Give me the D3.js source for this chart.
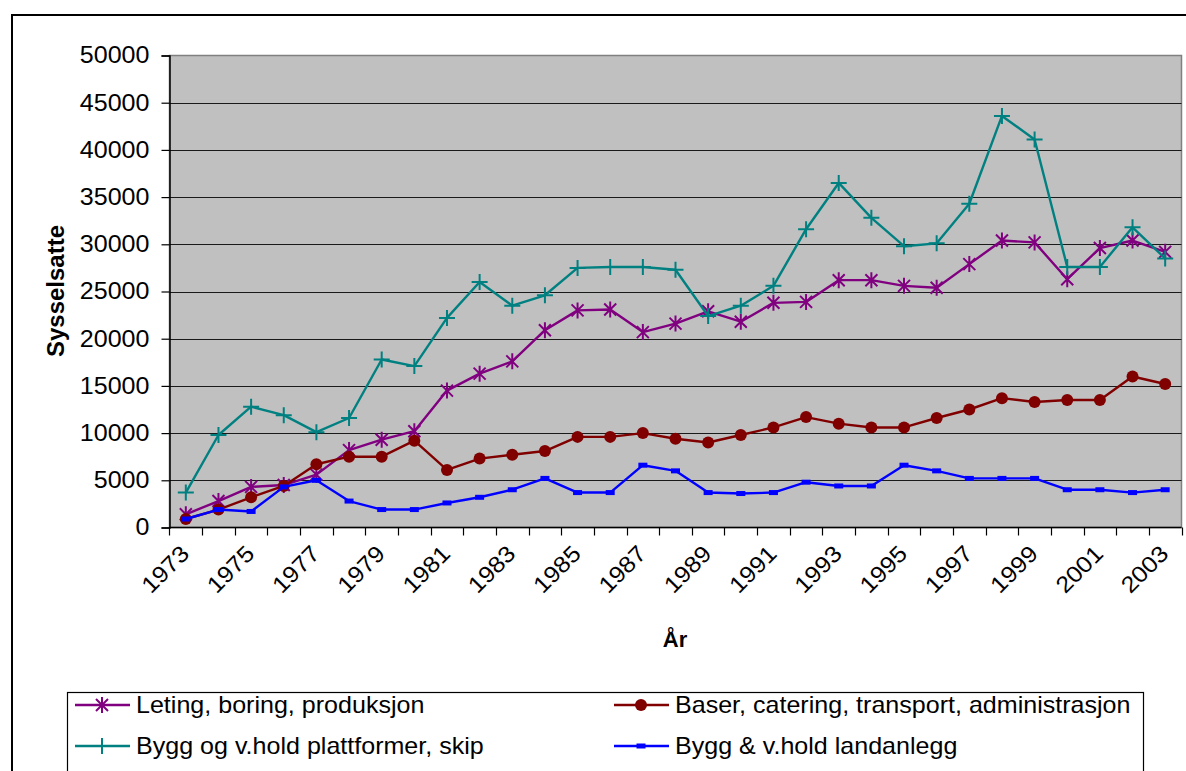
<!DOCTYPE html>
<html>
<head>
<meta charset="utf-8">
<script src="https://cdn.jsdelivr.net/npm/d3@7/dist/d3.min.js"></script>
<style>
  html, body { margin: 0; padding: 0; background: #fff; }
  svg { display: block; }
  text { font-family: "Liberation Sans", Arial, sans-serif; fill: #000; }
</style>
</head>
<body>
<svg id="chart" width="1186" height="771"></svg>
<script>
const years = d3.range(1973, 2004);
const yearLabels = years.filter(y => (y - 1973) % 2 === 0).map(String);
const yTicks = [0, 5000, 10000, 15000, 20000, 25000, 30000, 35000, 40000, 45000, 50000];

const seriesNames = [
  "Leting, boring, produksjon",
  "Baser, catering, transport, administrasjon",
  "Bygg og v.hold plattformer, skip",
  "Bygg & v.hold landanlegg"
];

const leting = [1400, 2800, 4300, 4500, 5600, 8200, 9300, 10200, 14500, 16300,
  17600, 20900, 23000, 23100, 20700, 21600, 22900, 21800, 23800, 23900,
  26200, 26200, 25600, 25400, 27900, 30400, 30200, 26300, 29600, 30400, 29200];
const baser = [900, 1900, 3200, 4400, 6700, 7500, 7500, 9200, 6100, 7300,
  7700, 8100, 9600, 9600, 10000, 9400, 9000, 9800, 10600, 11700,
  11000, 10600, 10600, 11600, 12500, 13700, 13300, 13500, 13500, 16000, 15200];
const plattformer = [3700, 9800, 12800, 11900, 10100, 11600, 17800, 17100, 22200, 26000,
  23500, 24600, 27500, 27600, 27600, 27300, 22400, 23500, 25600, 31600,
  36500, 32800, 29800, 30100, 34300, 43600, 41100, 27600, 27600, 31800, 28500];
const landanlegg = [900, 1900, 1700, 4300, 5000, 2800, 1900, 1900, 2600, 3200,
  4000, 5200, 3700, 3700, 6600, 6000, 3700, 3600, 3700, 4800,
  4400, 4400, 6600, 6000, 5200, 5200, 5200, 4000, 4000, 3700, 4000];

const seriesValues = [leting, baser, plattformer, landanlegg];
const colors = ["#800080", "#800000", "#008080", "#0000FF"];
const markers = ["star", "circle", "plus", "rect"];

const svg = d3.select("#chart");
const L = 169.5, R = 1181.5, T = 55.5, B = 527.5;
const SX = 1.09; // horizontal stretch of the original's text

// outer chart border (extends beyond the picture on right and bottom)
svg.append("rect").attr("x", 12).attr("y", 15).attr("width", 1250).attr("height", 900)
  .attr("fill", "#fff").attr("stroke", "#000").attr("stroke-width", 2);

const x = d3.scaleBand().domain(years).range([L, R]).padding(0);
const y = d3.scaleLinear().domain([0, 50000]).range([B, T]);
const cx = d => x(d) + x.bandwidth() / 2;

// plot area
svg.append("rect").attr("x", L).attr("y", T).attr("width", R - L).attr("height", B - T)
  .attr("fill", "#C0C0C0").attr("stroke", "#808080").attr("stroke-width", 1.5);

// gridlines
svg.append("g").selectAll("line").data(yTicks.filter(v => v > 0 && v < 50000)).join("line")
  .attr("x1", L).attr("x2", R).attr("y1", d => Math.round(y(d)) + 0.5).attr("y2", d => Math.round(y(d)) + 0.5)
  .attr("stroke", "#1a1a1a").attr("stroke-width", 1.2);

// y axis
const yAxis = d3.axisLeft(y).tickValues(yTicks).tickSize(8).tickPadding(12).tickFormat(d3.format("d"));
const gy = svg.append("g").attr("transform", `translate(${L},0)`).call(yAxis);
gy.select(".domain").attr("stroke", "#000").attr("stroke-width", 1.5);
gy.selectAll(".tick line").attr("stroke", "#000").attr("stroke-width", 1.2);
gy.selectAll(".tick text")
  .style("font-size", "23px").style("font-family", "Liberation Sans, Arial, sans-serif")
  .attr("x", null)
  .attr("transform", `translate(-20,0) scale(${SX},1)`);

// x axis baseline
svg.append("line").attr("x1", L).attr("x2", R).attr("y1", B).attr("y2", B)
  .attr("stroke", "#000").attr("stroke-width", 1.5);
// tick marks between categories
const boundaries = years.map(d => x(d)).concat([R]);
svg.append("g").selectAll("line").data(boundaries).join("line")
  .attr("x1", d => Math.round(d) + 0.5).attr("x2", d => Math.round(d) + 0.5)
  .attr("y1", B).attr("y2", B + 8).attr("stroke", "#000").attr("stroke-width", 1.2);

// x labels
svg.append("g").selectAll("text").data(yearLabels).join("text")
  .attr("transform", d => `translate(${cx(+d) - 1},${B + 22}) rotate(-45) scale(${SX},1)`)
  .attr("text-anchor", "end").attr("dy", "0.35em")
  .style("font-size", "23px")
  .text(d => d);

// axis titles
svg.append("text").attr("transform", "translate(64,291) rotate(-90)")
  .attr("text-anchor", "middle").style("font-size", "24px").style("font-weight", "bold")
  .text("Sysselsatte");
svg.append("text").attr("x", 675).attr("y", 647).attr("text-anchor", "middle")
  .style("font-size", "22px").style("font-weight", "bold").text("År");

// marker drawing
function drawMarker(g, type, color) {
  if (type === "star") {
    g.append("path").attr("d", "M-6,-6L6,6M-6,6L6,-6M0,-8L0,8")
      .attr("stroke", color).attr("stroke-width", 2).attr("fill", "none");
  } else if (type === "circle") {
    g.append("circle").attr("r", 6).attr("fill", color);
  } else if (type === "plus") {
    g.append("path").attr("d", "M-8,0L8,0M0,-8L0,8")
      .attr("stroke", color).attr("stroke-width", 2).attr("fill", "none");
  } else if (type === "rect") {
    g.append("rect").attr("x", -4.5).attr("y", -2.5).attr("width", 9).attr("height", 5).attr("fill", color);
  }
}

const line = d3.line().x((d, i) => cx(years[i])).y(d => y(d));

seriesValues.forEach((vals, si) => {
  const g = svg.append("g");
  g.append("path").datum(vals).attr("d", line)
    .attr("fill", "none").attr("stroke", colors[si]).attr("stroke-width", 2.4)
    .attr("stroke-linejoin", "round");
  g.selectAll("g.m").data(vals).join("g").attr("class", "m")
    .attr("transform", (d, i) => `translate(${cx(years[i])},${y(d)})`)
    .each(function () { drawMarker(d3.select(this), markers[si], colors[si]); });
});

// legend
const lg = svg.append("g");
lg.append("rect").attr("x", 67.5).attr("y", 692.5).attr("width", 1076).attr("height", 200)
  .attr("fill", "#fff").attr("stroke", "#000").attr("stroke-width", 1.2);
const legendPos = [[75, 705], [614, 705], [75, 746], [614, 746]];
seriesNames.forEach((name, i) => {
  const [lx, ly] = legendPos[i];
  const g = lg.append("g");
  g.append("line").attr("x1", lx).attr("x2", lx + 55).attr("y1", ly).attr("y2", ly)
    .attr("stroke", colors[i]).attr("stroke-width", 2.4);
  const mg = g.append("g").attr("transform", `translate(${lx + 27},${ly})`);
  drawMarker(mg, markers[i], colors[i]);
  g.append("text").attr("transform", `translate(${lx + 61},${ly}) scale(${SX},1)`).attr("dy", "0.35em")
    .style("font-size", "23px").text(name);
});
</script>
</body>
</html>
